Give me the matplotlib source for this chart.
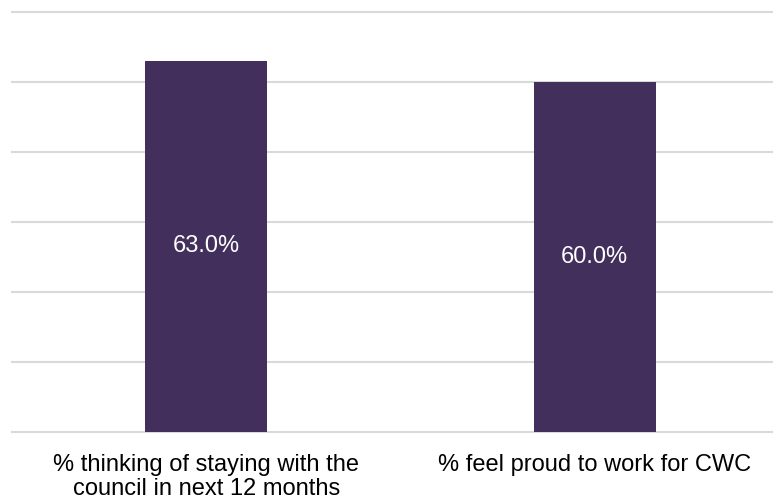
import matplotlib.pyplot as plt

plt.rcParams['font.family'] = ['Liberation Sans', 'DejaVu Sans']

# data
categories = ["% thinking of staying with the\ncouncil in next 12 months",
              "% feel proud to work for CWC"]
values = [63.0, 60.0]
y_ticks = [10, 20, 30, 40, 50, 60, 70]

bar_color = "#422F5C"
grid_color = "#D9D9D9"

fig = plt.figure(figsize=(7.73, 5.0), dpi=100)
ax = fig.add_axes([12 / 773, 68 / 500, 1 - 12 / 773, 420 / 500])

x = list(range(len(categories)))
bars = ax.bar(x, values, width=0.315, color=bar_color, zorder=3)

# gridlines drawn by hand so the top one isn't clipped
for t in y_ticks:
    ax.axhline(t, color=grid_color, linewidth=1.5, zorder=1, clip_on=False)

ax.set_ylim(y_ticks[0], y_ticks[-1])
ax.set_xlim(-0.5, (773 - 13) / 388 - 0.5)

# value labels in the middle of each bar
for xi, v in zip(x, values):
    ax.text(xi, (y_ticks[0] + v) / 2, f"{v:.1f}%", ha="center", va="center",
            color="white", fontsize=17, zorder=4)

ax.set_xticks(x)
ax.set_xticklabels(categories, fontsize=17, color="#000000", linespacing=1.1)
ax.tick_params(axis="x", length=0, pad=16)
ax.set_yticks([])
for s in ax.spines.values():
    s.set_visible(False)

fig.savefig("out.png", dpi=100)
